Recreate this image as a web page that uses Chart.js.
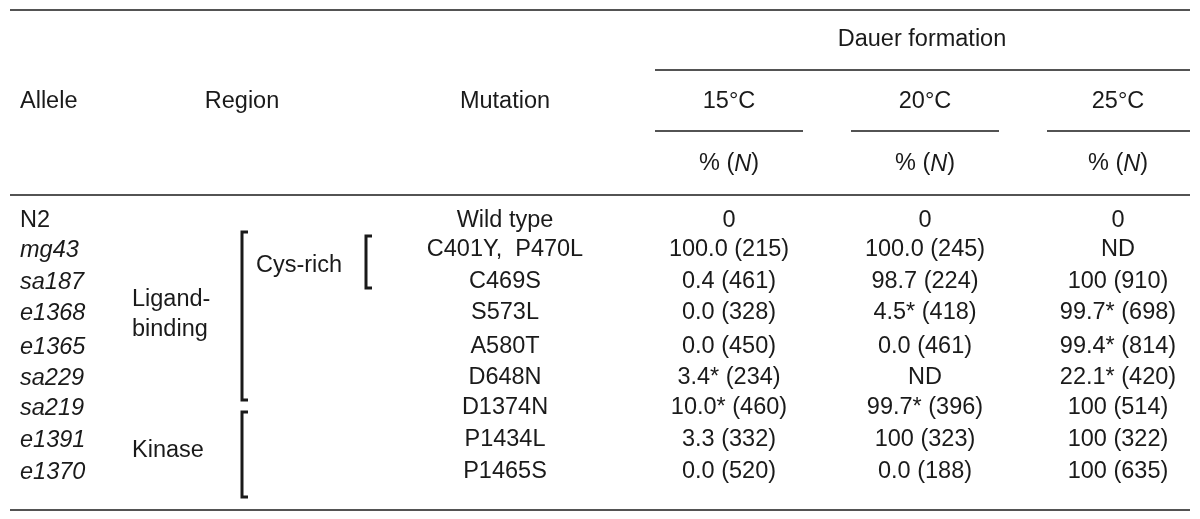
<!DOCTYPE html>
<html>
<head>
<meta charset="utf-8">
<script src="https://cdn.jsdelivr.net/npm/chart.js@4/dist/chart.umd.min.js"></script>
<style>
  body { margin: 0; background: #fff; }
  #wrap { width: 1200px; height: 519px; }
</style>
</head>
<body>
<div id="wrap"><canvas id="table"></canvas></div>
<script>
// table contents
const alleles = ['N2', 'mg43', 'sa187', 'e1368', 'e1365', 'sa229', 'sa219', 'e1391', 'e1370'];
const mutations = ['Wild type', 'C401Y,  P470L', 'C469S', 'S573L', 'A580T', 'D648N', 'D1374N', 'P1434L', 'P1465S'];
const temps = ['15°C', '20°C', '25°C'];
const dauer15 = ['0', '100.0 (215)', '0.4 (461)', '0.0 (328)', '0.0 (450)', '3.4* (234)', '10.0* (460)', '3.3 (332)', '0.0 (520)'];
const dauer20 = ['0', '100.0 (245)', '98.7 (224)', '4.5* (418)', '0.0 (461)', 'ND', '99.7* (396)', '100 (323)', '0.0 (188)'];
const dauer25 = ['0', 'ND', '100 (910)', '99.7* (698)', '99.4* (814)', '22.1* (420)', '100 (514)', '100 (322)', '100 (635)'];

// layout (pixels in a 0..1200 / 0..519 space)
const rowY = [221, 250, 282, 313, 347, 378, 408, 440, 472];
const colX = [729, 925, 1118];
const FONT = '"Liberation Sans", Arial, sans-serif';
const SIZE = '23.5px ';
const INK = '#1a1a1a';

const tablePlugin = {
    id: 'tableText',
    afterDraw(chart) {
        const ctx = chart.ctx;
        const sx = chart.scales.x, sy = chart.scales.y;
        const X = v => sx.getPixelForValue(v);
        const Y = v => sy.getPixelForValue(v);

        function text(str, x, y, align, italic) {
            ctx.font = (italic ? 'italic ' : '') + SIZE + FONT;
            ctx.textAlign = align || 'center';
            ctx.textBaseline = 'middle';
            ctx.fillStyle = INK;
            ctx.fillText(str, X(x), Y(y));
        }
        function line(x1, y1, x2, y2, w) {
            ctx.beginPath();
            ctx.lineWidth = w || 1.3;
            ctx.strokeStyle = INK;
            ctx.moveTo(X(x1), Y(y1));
            ctx.lineTo(X(x2), Y(y2));
            ctx.stroke();
        }
        function bracket(x, y1, y2, w) {
            ctx.beginPath();
            ctx.lineWidth = 3;
            ctx.strokeStyle = INK;
            ctx.moveTo(X(x + w), Y(y1));
            ctx.lineTo(X(x), Y(y1));
            ctx.lineTo(X(x), Y(y2));
            ctx.lineTo(X(x + w), Y(y2));
            ctx.stroke();
        }
        function pctN(x, y) {
            const a = '% (', c = ')';
            ctx.font = 'italic ' + SIZE + FONT;
            const wn = ctx.measureText('N').width;
            ctx.font = SIZE + FONT;
            const wa = ctx.measureText(a).width, wc = ctx.measureText(c).width;
            let left = X(x) - (wa + wn + wc) / 2;
            ctx.textAlign = 'left';
            ctx.textBaseline = 'middle';
            ctx.fillStyle = INK;
            ctx.fillText(a, left, Y(y));
            ctx.font = 'italic ' + SIZE + FONT;
            ctx.fillText('N', left + wa, Y(y));
            ctx.font = SIZE + FONT;
            ctx.fillText(c, left + wa + wn, Y(y));
        }

        // rules
        line(10, 10, 1190, 10, 1.5);
        line(655, 70, 1190, 70);
        line(655, 131, 803, 131);
        line(851, 131, 999, 131);
        line(1047, 131, 1190, 131);
        line(10, 195, 1190, 195);
        line(10, 510, 1190, 510, 1.5);

        // header
        text('Dauer formation', 922, 40);
        text('Allele', 20, 102, 'left');
        text('Region', 242, 102);
        text('Mutation', 505, 102);
        temps.forEach((t, i) => { text(t, colX[i], 102); pctN(colX[i], 164); });

        // region labels and brackets
        text('Cys-rich', 256, 266, 'left');
        text('Ligand-', 132, 300, 'left');
        text('binding', 132, 330, 'left');
        text('Kinase', 132, 451, 'left');
        bracket(242, 232, 400, 6);
        bracket(242, 412, 497, 6);
        bracket(366, 236, 288, 6);

        // body
        alleles.forEach((a, i) => {
            text(a, 20, rowY[i], 'left', i > 0);
            text(mutations[i], 505, rowY[i]);
            text(dauer15[i], colX[0], rowY[i]);
            text(dauer20[i], colX[1], rowY[i]);
            text(dauer25[i], colX[2], rowY[i]);
        });
    }
};

new Chart(document.getElementById('table'), {
    type: 'scatter',
    data: { datasets: [{ data: [] }] },
    options: {
        responsive: true,
        maintainAspectRatio: false,
        animation: false,
        layout: { padding: 0 },
        plugins: { legend: { display: false }, tooltip: { enabled: false } },
        scales: {
            x: { type: 'linear', min: 0, max: 1200, display: false },
            y: { type: 'linear', min: 0, max: 519, reverse: true, display: false }
        }
    },
    plugins: [tablePlugin]
});
</script>
</body>
</html>
